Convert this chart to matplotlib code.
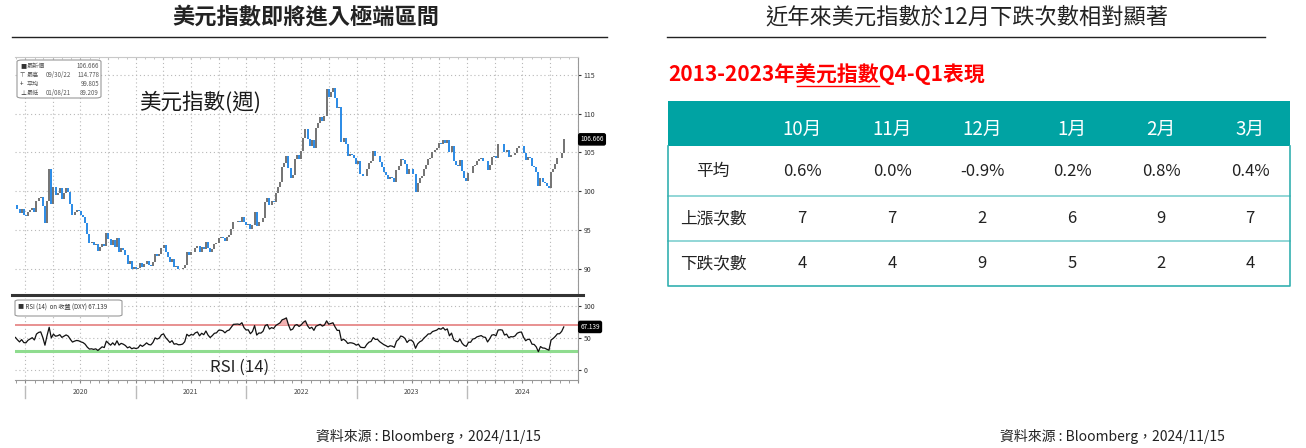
import matplotlib
matplotlib.use('Agg')
import matplotlib.pyplot as plt
import matplotlib.dates as mdates
import matplotlib.transforms as mtrans
from matplotlib.lines import Line2D
from matplotlib.patches import Rectangle, FancyBboxPatch
import numpy as np
import pandas as pd

plt.rcParams['font.family'] = ['Noto Sans CJK TC', 'DejaVu Sans']

# ---------------- data ----------------
first_week = '2019-08-02'   # weekly (Friday) closes of the US dollar index
close_2019 = [98.08, 97.51, 98.15, 97.65, 98.92, 98.40, 98.26, 98.52, 99.12, 98.81, 98.31,
              97.28, 97.83, 97.24, 98.35, 98.00, 98.27, 98.27, 97.70, 97.18, 97.66, 96.91]
close_2020 = [96.84, 97.35, 97.61, 97.86, 97.39, 98.69, 99.11, 99.26, 98.13, 95.96, 98.75,
              102.82, 98.36, 100.58, 99.50, 99.77, 100.38, 99.07, 99.73, 100.38, 99.85, 98.34,
              96.94, 97.34, 97.62, 97.43, 96.96, 96.65, 95.91, 94.44, 93.35, 93.43, 93.09,
              93.24, 92.37, 92.80, 93.26, 92.95, 94.64, 93.84, 93.05, 93.70, 92.77, 94.04,
              92.23, 92.75, 92.39, 91.79, 90.70, 90.98, 90.02, 90.24]
close_2021 = [89.94, 90.10, 90.77, 90.23, 90.58, 91.03, 90.48, 90.36, 90.88, 91.98, 91.67,
              91.92, 92.76, 93.02, 92.16, 91.56, 90.85, 91.27, 90.22, 90.32, 90.01, 90.03,
              90.13, 90.55, 92.23, 91.85, 92.23, 92.12, 92.68, 92.90, 92.17, 92.80, 92.52,
              93.49, 92.68, 92.13, 92.58, 93.20, 93.32, 94.04, 94.08, 93.97, 93.64, 94.12,
              94.32, 95.12, 96.03, 96.08, 96.14, 96.08, 96.66, 96.02, 95.67]
close_2022 = [95.73, 95.16, 95.64, 97.27, 95.48, 96.08, 96.06, 96.62, 98.66, 99.13, 98.21,
              98.79, 98.62, 99.83, 100.50, 101.16, 103.07, 103.66, 104.56, 103.03, 101.66,
              102.14, 104.16, 104.71, 104.21, 105.13, 106.89, 108.07, 106.73, 105.88, 106.60,
              105.64, 108.16, 108.82, 109.54, 109.00, 109.76, 113.19, 112.12, 112.76, 113.31,
              111.98, 110.76, 110.80, 106.29, 106.93, 106.04, 104.51, 104.82, 104.70, 104.33,
              103.52]
close_2023 = [103.89, 102.20, 101.98, 101.93, 102.92, 103.63, 103.87, 105.21, 104.52, 104.58,
              103.72, 103.12, 102.51, 102.09, 101.55, 101.82, 101.66, 101.22, 102.69, 103.20,
              104.21, 104.03, 103.55, 102.27, 102.88, 102.91, 102.27, 99.91, 101.07, 101.68,
              102.02, 102.84, 103.43, 104.20, 104.24, 105.04, 105.32, 105.58, 106.22, 106.04,
              106.65, 106.16, 106.56, 105.02, 105.86, 103.92, 103.43, 103.27, 104.01, 102.56,
              101.70, 101.33]
close_2024 = [102.42, 102.40, 103.29, 103.44, 103.92, 104.10, 104.28, 103.94, 103.86, 102.71,
              103.43, 104.43, 104.55, 104.30, 106.04, 106.15, 106.08, 105.03, 105.30, 104.45,
              104.72, 104.67, 104.89, 105.55, 105.80, 105.87, 104.88, 104.09, 104.40, 104.33,
              103.21, 103.14, 102.45, 100.72, 101.70, 101.18, 101.11, 100.72, 100.38, 102.52,
              102.92, 103.49, 104.26, 104.28, 104.99, 106.69]

price_ticks = [90, 95, 100, 105, 110, 115]
rsi_ticks = [0, 50, 100]
rsi_upper, rsi_lower = 70, 30
year_labels = ['2020', '2021', '2022', '2023', '2024']

legend_symbols = ['■', '⊤', '+', '⊥']
legend_names = ['最新價', '最高', '平均', '最低']
legend_dates = ['', '09/30/22', '', '01/08/21']
legend_values = ['106.666', '114.778', '99.805', '89.209']
last_price_tag = '106.666'
last_rsi_tag = '67.139'

months = ['10月', '11月', '12月', '1月', '2月', '3月']
row_labels = ['平均', '上漲次數', '下跌次數']
avg_return = ['0.6%', '0.0%', '-0.9%', '0.2%', '0.8%', '0.4%']
up_count = [7, 7, 2, 6, 9, 7]
down_count = [4, 4, 9, 5, 2, 4]

left_title = '美元指數即將進入極端區間'
right_title = '近年來美元指數於12月下跌次數相對顯著'
source_note = '資料來源 : Bloomberg，2024/11/15'

# ---------------- figure ----------------
W, H = 1306, 448
fig = plt.figure(figsize=(W / 100, H / 100), dpi=100)
fig.patch.set_facecolor('white')


def fx(x):
    return x / W


def fy(y):
    return 1 - y / H


def add_ax(l, t, r, b):
    return fig.add_axes([fx(l), fy(b), (r - l) / W, (b - t) / H])


closes = np.array(close_2019 + close_2020 + close_2021 + close_2022 + close_2023 + close_2024)
dates = pd.date_range(first_week, periods=len(closes), freq='W-FRI')
xd = mdates.date2num(dates)
opens = np.r_[closes[0], closes[:-1]]
up = closes >= opens

xlim = (mdates.date2num(pd.Timestamp('2019-11-28')), mdates.date2num(pd.Timestamp('2025-01-01')))

# ----- price panel -----
ax = add_ax(15, 57, 578, 293)
ax.vlines(xd[up], opens[up], closes[up], color='#737373', lw=1.4, zorder=3)
ax.vlines(xd[~up], closes[~up], opens[~up], color='#2a8ae6', lw=1.4, zorder=3)
ax.set_xlim(*xlim)
ax.set_ylim(86.9, 117.3)
ax.yaxis.tick_right()
ax.set_yticks(price_ticks)
ax.tick_params(axis='y', labelsize=5, length=2, colors='#333', pad=2)
ax.xaxis.set_major_locator(mdates.MonthLocator([1, 4, 7, 10]))
ax.xaxis.set_minor_locator(mdates.MonthLocator())
ax.tick_params(axis='x', which='both', bottom=False, labelbottom=False, top=True, length=1.5,
               colors='#bbbbbb', direction='in')
ax.grid(True, which='major', linestyle=(0, (1, 2.5)), color='#b8b8b8', lw=0.8)
for s in ['left', 'bottom']:
    ax.spines[s].set_visible(False)
ax.spines['top'].set_color('#c8c8c8')
ax.spines['right'].set_color('#999999')
ax.text(1.004, closes[-1], last_price_tag, transform=mtrans.blended_transform_factory(ax.transAxes, ax.transData),
        color='white', fontsize=4.6, va='center', ha='left',
        bbox=dict(boxstyle='round,pad=0.25', fc='black', ec='black'), clip_on=False)
fig.text(fx(200), fy(103), '美元指數(週)', fontsize=15.5, fontweight='medium', ha='center', va='center',
         color='#1a1a1a')

# legend box
fig.add_artist(FancyBboxPatch((fx(17), fy(98)), (101 - 17) / W, (98 - 60) / H,
                              boxstyle='round,pad=0,rounding_size=0.004', fc='white', ec='#999', lw=0.8,
                              transform=fig.transFigure))
for i in range(4):
    yy = fy(66 + 9 * i)
    fig.text(fx(20), yy, legend_symbols[i], fontsize=4.4, va='center', color='#333')
    fig.text(fx(27), yy, legend_names[i], fontsize=4.4, va='center', color='#555')
    fig.text(fx(46), yy, legend_dates[i], fontsize=4.4, va='center', color='#555')
    fig.text(fx(99), yy, legend_values[i], fontsize=4.4, va='center', ha='right', color='#555')

# separator line between panels
fig.add_artist(Line2D([fx(12), fx(583)], [fy(295), fy(295)], color='#333', lw=2.2))

# ----- RSI panel -----
n = 14
d = np.diff(closes)
g = np.clip(d, 0, None)
l = np.clip(-d, 0, None)
ag = np.full(len(closes), np.nan)
al = np.full(len(closes), np.nan)
ag[n] = g[:n].mean()
al[n] = l[:n].mean()
for i in range(n + 1, len(closes)):
    ag[i] = (ag[i - 1] * (n - 1) + g[i - 1]) / n
    al[i] = (al[i - 1] * (n - 1) + l[i - 1]) / n
rsi = 100 - 100 / (1 + ag / al)

ax2 = add_ax(15, 298, 578, 380)
ax2.axhline(rsi_upper, color='#e89090', lw=1.4, zorder=2)
ax2.axhline(rsi_lower, color='#8fdc8f', lw=2.2, zorder=2)
ok = ~np.isnan(rsi)
ax2.fill_between(xd[ok], rsi_upper, rsi[ok], where=rsi[ok] > rsi_upper, interpolate=True,
                 color='#f3b3b3', lw=0, zorder=2)
ax2.fill_between(xd[ok], rsi_lower, rsi[ok], where=rsi[ok] < rsi_lower, interpolate=True,
                 color='#b5e8b5', lw=0, zorder=2)
ax2.plot(xd[ok], rsi[ok], color='#111', lw=0.9, zorder=3)
ax2.set_xlim(*xlim)
ax2.set_ylim(-15.4, 112.3)
ax2.yaxis.tick_right()
ax2.set_yticks(rsi_ticks)
ax2.tick_params(axis='y', labelsize=5, length=2, colors='#333', pad=2)
ax2.xaxis.set_major_locator(mdates.MonthLocator([1, 4, 7, 10]))
ax2.xaxis.set_minor_locator(mdates.MonthLocator())
ax2.tick_params(axis='x', which='both', labelbottom=False, length=2, colors='#888', direction='out')
ax2.grid(True, which='major', linestyle=(0, (1, 2.5)), color='#b8b8b8', lw=0.8)
ax2.spines['left'].set_visible(False)
ax2.spines['top'].set_visible(False)
ax2.spines['right'].set_color('#999999')
ax2.spines['bottom'].set_color('#999999')
ax2.text(1.004, rsi[-1], last_rsi_tag, transform=mtrans.blended_transform_factory(ax2.transAxes, ax2.transData),
         color='white', fontsize=4.6, va='center', ha='left',
         bbox=dict(boxstyle='round,pad=0.25', fc='black', ec='black'), clip_on=False)
fig.add_artist(FancyBboxPatch((fx(15), fy(316)), (122 - 15) / W, (316 - 300) / H,
                              boxstyle='round,pad=0,rounding_size=0.003', fc='white', ec='#999', lw=0.8,
                              transform=fig.transFigure))
fig.text(fx(18), fy(308), '■ RSI (14)  on 收盤 (DXY) ' + last_rsi_tag, fontsize=4.4, va='center', color='#333')
fig.text(fx(240), fy(367), 'RSI (14)', fontsize=12, ha='center', va='center', color='#222')

# year separators and labels
bt = mtrans.blended_transform_factory(ax2.transData, fig.transFigure)
for yl in year_labels:
    x0 = mdates.date2num(pd.Timestamp(yl + '-01-01'))
    xm = mdates.date2num(pd.Timestamp(yl + '-07-01'))
    ax2.add_line(Line2D([x0, x0], [fy(386), fy(398)], transform=bt, color='#bbbbbb', lw=1, clip_on=False))
    ax2.text(xm, fy(392), yl, transform=bt, fontsize=5, ha='center', va='center', color='#444')

# ----- titles -----
fig.text(fx(306), fy(17), left_title, fontsize=16, fontweight='bold', ha='center', va='center', color='#222')
fig.add_artist(Line2D([fx(12), fx(607)], [fy(37), fy(37)], color='#222', lw=1))
fig.text(fx(967), fy(17), right_title, fontsize=16, fontweight='medium', ha='center', va='center', color='#222')
fig.add_artist(Line2D([fx(667), fx(1265)], [fy(37), fy(37)], color='#222', lw=1))

# ----- table -----
tb = fig.add_axes([0, 0, 1, 1], zorder=-1)
tb.set_xlim(0, W)
tb.set_ylim(H, 0)
tb.axis('off')
t_left, t_right = 668, 1290
t_top, h_bot = 101, 146
row_bounds = [146, 196, 241, 286]
tb.add_patch(Rectangle((t_left, t_top), t_right - t_left, h_bot - t_top, fc='#00A3A3', ec='none'))
for yb in row_bounds[1:-1]:
    tb.plot([t_left, t_right], [yb, yb], color='#7fcfcf', lw=1.2)
tb.plot([t_left, t_left, t_right, t_right], [h_bot, row_bounds[-1], row_bounds[-1], h_bot],
        color='#33b0b0', lw=1.2)
col_x = [802, 892, 982, 1072, 1161, 1250]
label_x = 713
for cx, m in zip(col_x, months):
    tb.text(cx, 129, m, color='white', fontsize=13.5, fontweight='medium', ha='center', va='center')
rows = [avg_return, [str(v) for v in up_count], [str(v) for v in down_count]]
for r, (lab, vals) in enumerate(zip(row_labels, rows)):
    yc = (row_bounds[r] + row_bounds[r + 1]) / 2
    tb.text(label_x, yc, lab, fontsize=12, ha='center', va='center', color='#222')
    for cx, v in zip(col_x, vals):
        tb.text(cx, yc, v, fontsize=12, ha='center', va='center', color='#222')

fig.text(fx(668), fy(74), '2013-2023年美元指數Q4-Q1表現', fontsize=15, fontweight='bold',
         color='#ff0000', ha='left', va='center')
fig.add_artist(Line2D([fx(797), fx(879)], [fy(86), fy(86)], color='#ff0000', lw=1))

# ----- footers -----
fig.text(fx(428), fy(436), source_note, fontsize=10, ha='center', va='center', color='#222')
fig.text(fx(1112), fy(436), source_note, fontsize=10, ha='center', va='center', color='#222')

fig.savefig('out.png', dpi=100, facecolor='white')
